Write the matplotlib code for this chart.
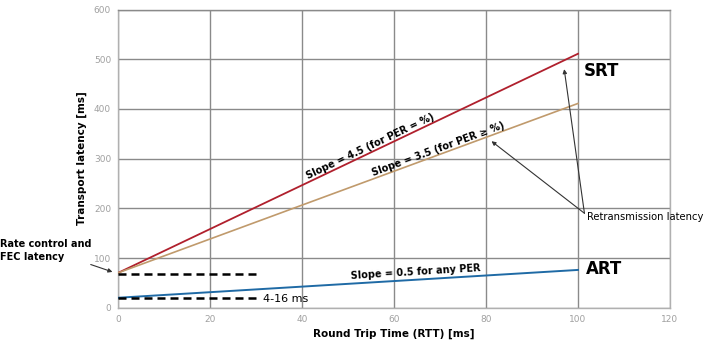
import numpy as np
import matplotlib.pyplot as plt

# RTT range and transport latency end points
rtt = [0, 100]
srt_high = [70, 511]   # slope 4.5
srt_low = [70, 411]    # slope 3.5
art = [20, 76]         # slope 0.5

fec_level = 68
art_base = 19
dash_end = 31

x_ticks = [0, 20, 40, 60, 80, 100, 120]
y_ticks = [0, 100, 200, 300, 400, 500, 600]

red = '#b0202d'
tan = '#c09a6c'
blue = '#1f6aa5'

fig = plt.figure(figsize=(7.09, 3.59), dpi=100)
ax = fig.add_axes([0.1664, 0.1429, 0.7786, 0.8306])

ax.plot(rtt, srt_high, color=red, lw=1.3, zorder=3)
ax.plot(rtt, srt_low, color=tan, lw=1.2, zorder=3)
ax.plot(rtt, art, color=blue, lw=1.4, zorder=3)

ax.plot([0, dash_end], [fec_level, fec_level], color='black', lw=1.8, ls=(0, (3.2, 2)), zorder=4)
ax.plot([0, dash_end], [art_base, art_base], color='black', lw=1.8, ls=(0, (3.2, 2)), zorder=4)

ax.set_xlim(0, 120)
ax.set_ylim(0, 600)
ax.set_xticks(x_ticks)
ax.set_yticks(y_ticks)
ax.grid(True, color='#8a8a8a', lw=1.0)
ax.set_axisbelow(True)
for s in ax.spines.values():
    s.set_color('#b0b0b0')
    s.set_linewidth(1.0)
ax.spines['top'].set_color('#8a8a8a')
ax.tick_params(length=0, labelsize=6.5, colors='#a0a0a0', pad=5)

ax.set_xlabel('Round Trip Time (RTT) [ms]', fontsize=7.5, fontweight='semibold', labelpad=4)
ax.set_ylabel('Transport latency [ms]', fontsize=7.5, fontweight='semibold', labelpad=5)

# slope labels along the lines
ax.text(54.8, 324, 'Slope = 4.5 (for PER = %)', fontsize=7, fontweight='semibold',
        rotation=25.4, rotation_mode='anchor', ha='center', va='center')
ax.text(69.6, 318, 'Slope = 3.5 (for PER \u2265 %)', fontsize=7, fontweight='semibold',
        rotation=20.1, rotation_mode='anchor', ha='center', va='center')
ax.text(64.8, 71, 'Slope = 0.5 for any PER', fontsize=7, fontweight='semibold',
        rotation=3.5, rotation_mode='anchor', ha='center', va='center')

ax.text(101.2, 476, 'SRT', fontsize=12, fontweight='bold', va='center', ha='left')
ax.text(101.8, 77, 'ART', fontsize=12, fontweight='bold', va='center', ha='left')
ax.text(102, 183, 'Retransmission latency', fontsize=7.2, va='center', ha='left',
        clip_on=False)

ax.text(31.5, 18, '4-16 ms', fontsize=8, va='center', ha='left')

# arrows to the SRT lines
ax.annotate('', xy=(97, 480), xytext=(101.4, 190),
            arrowprops=dict(arrowstyle='-|>', color='#333333', lw=0.8,
                            mutation_scale=6, shrinkA=0, shrinkB=0))
ax.annotate('', xy=(81.2, 335), xytext=(101.4, 190),
            arrowprops=dict(arrowstyle='-|>', color='#333333', lw=0.8,
                            mutation_scale=6, shrinkA=0, shrinkB=0))

ax.annotate('Rate control and\nFEC latency', xy=(-1.2, 72), xytext=(-25.6, 115),
            fontsize=7, fontweight='semibold', ha='left', va='center',
            linespacing=1.3, annotation_clip=False,
            arrowprops=dict(arrowstyle='-|>', color='#333333', lw=0.8,
                            mutation_scale=6, shrinkA=0, shrinkB=0,
                            relpos=(0.9, 0.0)))

fig.savefig('out.png', dpi=100)
